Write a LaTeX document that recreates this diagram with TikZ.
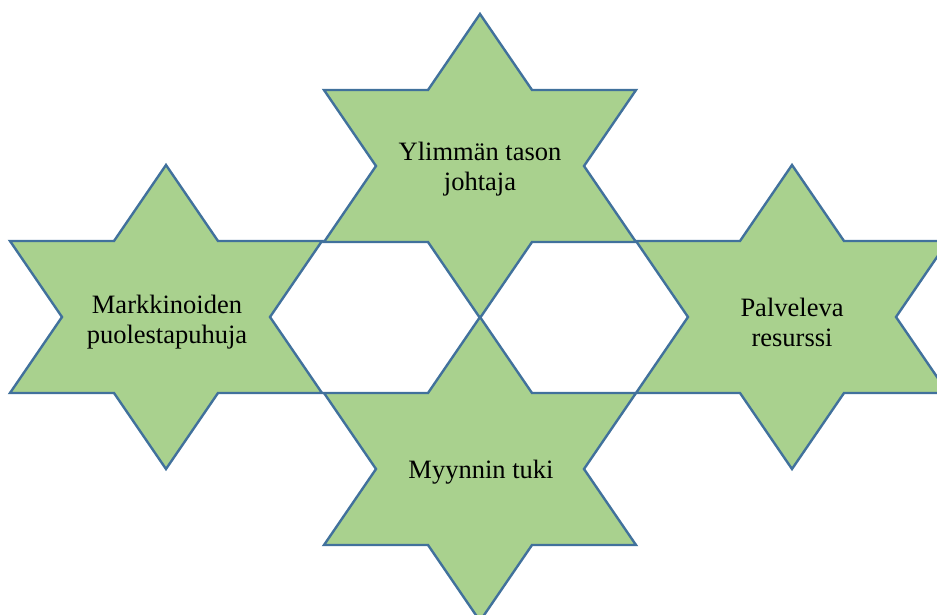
\documentclass[tikz,border=0pt]{standalone}
\usepackage{fontspec}
\setmainfont{Liberation Serif}
\definecolor{starfill}{HTML}{A9D18E}
\definecolor{starline}{HTML}{41719C}
\begin{document}
\begin{tikzpicture}[x=1pt,y=-1pt,
  starshape/.style={fill=starfill,draw=starline,line width=2.4pt,line join=miter},
  label/.style={align=center,font=\fontsize{26.5}{30}\selectfont,inner sep=0pt},
  pics/hexstar/.style={code={
    \path[starshape] (0,-152) -- (52,-76) -- (156,-76) -- (104,0) -- (156,76)
      -- (52,76) -- (0,152) -- (-52,76) -- (-156,76) -- (-104,0)
      -- (-156,-76) -- (-52,-76) -- cycle;
  }}]
  \useasboundingbox (0,0) rectangle (937,615);
  \clip (0,0) rectangle (937,615);
  % four six-pointed stars touching at their tips
  \pic at (480,166) {hexstar};
  \pic at (166,317) {hexstar};
  \pic at (792,317) {hexstar};
  \pic at (480,469) {hexstar};
  % role labels
  \node[label] (top) at (480,169) {Ylimmän tason\\johtaja};
  \node[label] (left) at (167,322) {Markkinoiden\\puolestapuhuja};
  \node[label] (right) at (792,322) {Palveleva\\resurssi};
  \node[label] (bottom) at (481,472) {Myynnin tuki};
\end{tikzpicture}
\end{document}
